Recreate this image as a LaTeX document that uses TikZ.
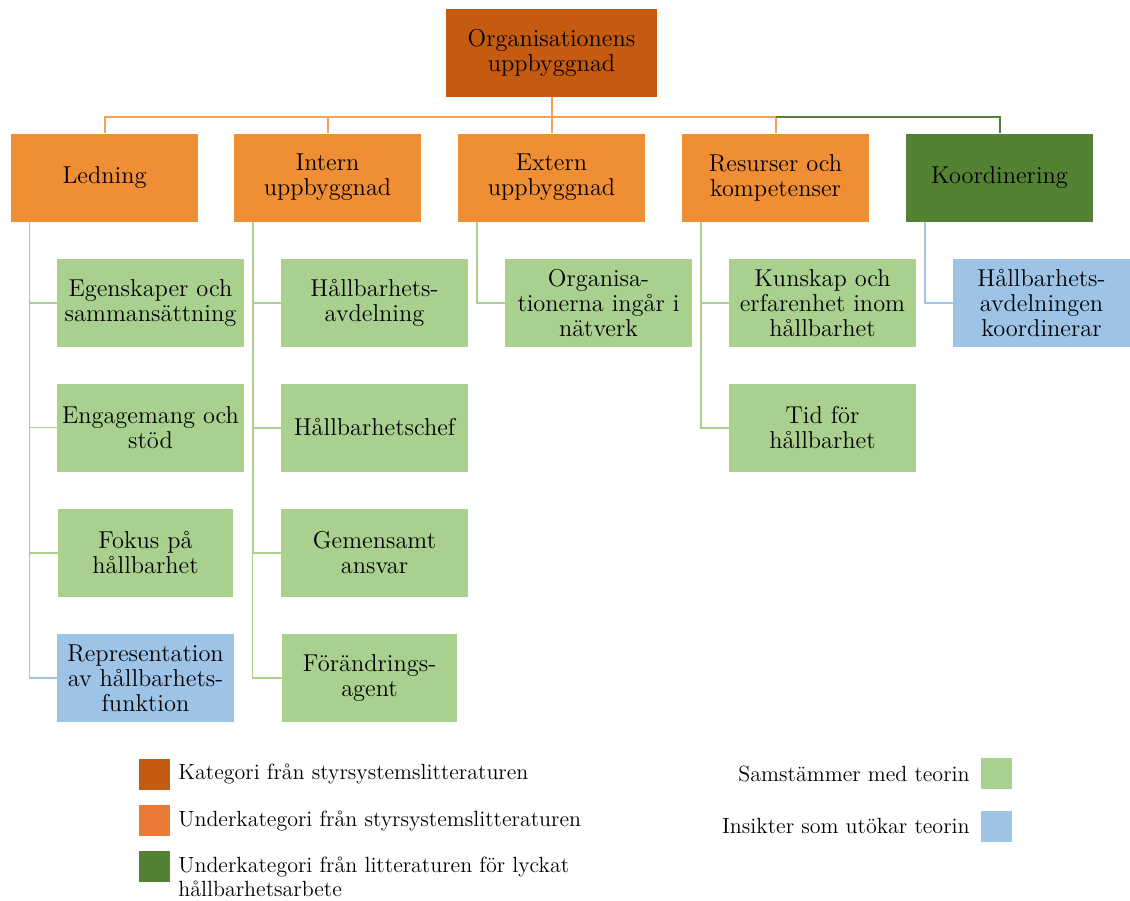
\documentclass[tikz,border=0pt]{standalone}
\usepackage{fontspec}
\definecolor{katfarg}{HTML}{C55A11}
\definecolor{underfarg}{HTML}{F08E35}
\definecolor{legunder}{HTML}{E97B35}
\definecolor{lyckfarg}{HTML}{548235}
\definecolor{samfarg}{HTML}{A9D08E}
\definecolor{utokfarg}{HTML}{9DC3E6}
\definecolor{orlinje}{HTML}{F2A05A}
\begin{document}
\begin{tikzpicture} [x=0.5pt, y=-0.5pt,
    ruta/.style={minimum width=93.5pt, minimum height=44pt, inner sep=1pt, align=center,
                 font=\fontsize{12.2}{12.5}\selectfont},
    kat/.style={ruta, fill=katfarg, minimum width=105.5pt},
    under/.style={ruta, fill=underfarg},
    lyckad/.style={ruta, fill=lyckfarg},
    sam/.style={ruta, fill=samfarg},
    utok/.style={ruta, fill=utokfarg},
    legruta/.style={minimum size=15.5pt, inner sep=0pt},
    legtext/.style={inner sep=1pt, align=left, font=\fontsize{11}{12}\selectfont}]
    \useasboundingbox (0,0) rectangle (1130,900);
    % huvudkategori och underkategorier
    \path node (org) at (551.5,53) [kat] {Organisationens\\uppbyggnad}
          node (ledning) at (104.5,177.5) [under] {Ledning}
          node (intern) at (327.5,177.5) [under] {Intern\\uppbyggnad}
          node (extern) at (551.5,177.5) [under] {Extern\\uppbyggnad}
          node (resurser) at (775.5,177.5) [under] {Resurser och\\kompetenser}
          node (koord) at (999.5,177.5) [lyckad] {Koordinering};
    % ledning
    \path node (egen) at (150.5,303) [sam] {Egenskaper och\\sammansättning}
          node (engag) at (150.5,427.5) [sam] {Engagemang och\\stöd}
          node (fokus) at (145.5,553) [sam, minimum width=87.5pt] {Fokus på\\hållbarhet}
          node (repr) at (145.5,678) [utok, minimum width=88.5pt] {Representation\\av hållbarhets-\\funktion};
    % intern uppbyggnad
    \path node (avd) at (374.5,303) [sam] {Hållbarhets-\\avdelning}
          node (chef) at (374.5,427.5) [sam] {Hållbarhetschef}
          node (ansvar) at (374.5,553) [sam] {Gemensamt\\ansvar}
          node (agent) at (369.5,678) [sam, minimum width=87.5pt] {Förändrings-\\agent};
    % extern, resurser, koordinering
    \path node (natverk) at (598.5,303) [sam] {Organisa-\\tionerna ingår i\\nätverk}
          node (kunskap) at (822.5,303) [sam] {Kunskap och\\erfarenhet inom\\hållbarhet}
          node (tid) at (822.5,427.5) [sam] {Tid för\\hållbarhet}
          node (koordavd) at (1041.5,303) [utok, minimum width=88.5pt] {Hållbarhets-\\avdelningen\\koordinerar};
    % linjer
    \draw [orlinje, line width=1pt] (org.south) -- +(0,20) coordinate (buss);
    \draw [orlinje, line width=1pt] (buss) -| (ledning.north);
    \draw [orlinje, line width=1pt] (buss) -| (intern.north);
    \draw [orlinje, line width=1pt] (buss) -- (extern.north);
    \draw [orlinje, line width=1pt] (buss) -| (resurser.north);
    \draw [lyckfarg, line width=1pt] (buss -| resurser.north) -| (koord.north);
    \coordinate (ltrad) at ([xshift=9.5pt]ledning.south west);
    \coordinate (itrad) at ([xshift=9.5pt]intern.south west);
    \coordinate (etrad) at ([xshift=9.5pt]extern.south west);
    \coordinate (rtrad) at ([xshift=9.5pt]resurser.south west);
    \coordinate (ktrad) at ([xshift=9.5pt]koord.south west);
    \draw [samfarg, line width=0.6pt] (ltrad) |- (egen.west);
    \draw [samfarg, line width=0.6pt] (ltrad) |- (engag.west);
    \draw [samfarg, line width=0.6pt] (ltrad) |- (fokus.west);
    \draw [utokfarg, line width=0.6pt] (ltrad |- fokus.west) |- (repr.west);
    \draw [samfarg, line width=1pt] (itrad) |- (avd.west);
    \draw [samfarg, line width=1pt] (itrad) |- (chef.west);
    \draw [samfarg, line width=1pt] (itrad) |- (ansvar.west);
    \draw [samfarg, line width=0.6pt] (itrad |- ansvar.west) |- (agent.west);
    \draw [samfarg, line width=1pt] (etrad) |- (natverk.west);
    \draw [samfarg, line width=1pt] (rtrad) |- (kunskap.west);
    \draw [samfarg, line width=1pt] (rtrad) |- (tid.west);
    \draw [utokfarg, line width=1pt] (ktrad) |- (koordavd.west);
    % teckenförklaring
    \path node (lkat) at (154.5,774) [legruta, fill=katfarg] {}
          node (lunder) at (154.5,820.5) [legruta, fill=legunder] {}
          node (llyck) at (154.5,866.5) [legruta, fill=lyckfarg] {}
          node (lsam) at (996.5,773) [legruta, fill=samfarg] {}
          node (lutok) at (996.5,826) [legruta, fill=utokfarg] {};
    \path node (tkat) at (176,774) [legtext, anchor=west] {Kategori från styrsystemslitteraturen}
          node (tunder) at (176,821) [legtext, anchor=west] {Underkategori från styrsystemslitteraturen}
          node (tlyck) at (176,877) [legtext, anchor=west] {Underkategori från litteraturen för lyckat\\hållbarhetsarbete}
          node (tsam) at (972,774) [legtext, anchor=east] {Samstämmer med teorin}
          node (tutok) at (972,826) [legtext, anchor=east] {Insikter som utökar teorin};
\end{tikzpicture}
\end{document}
